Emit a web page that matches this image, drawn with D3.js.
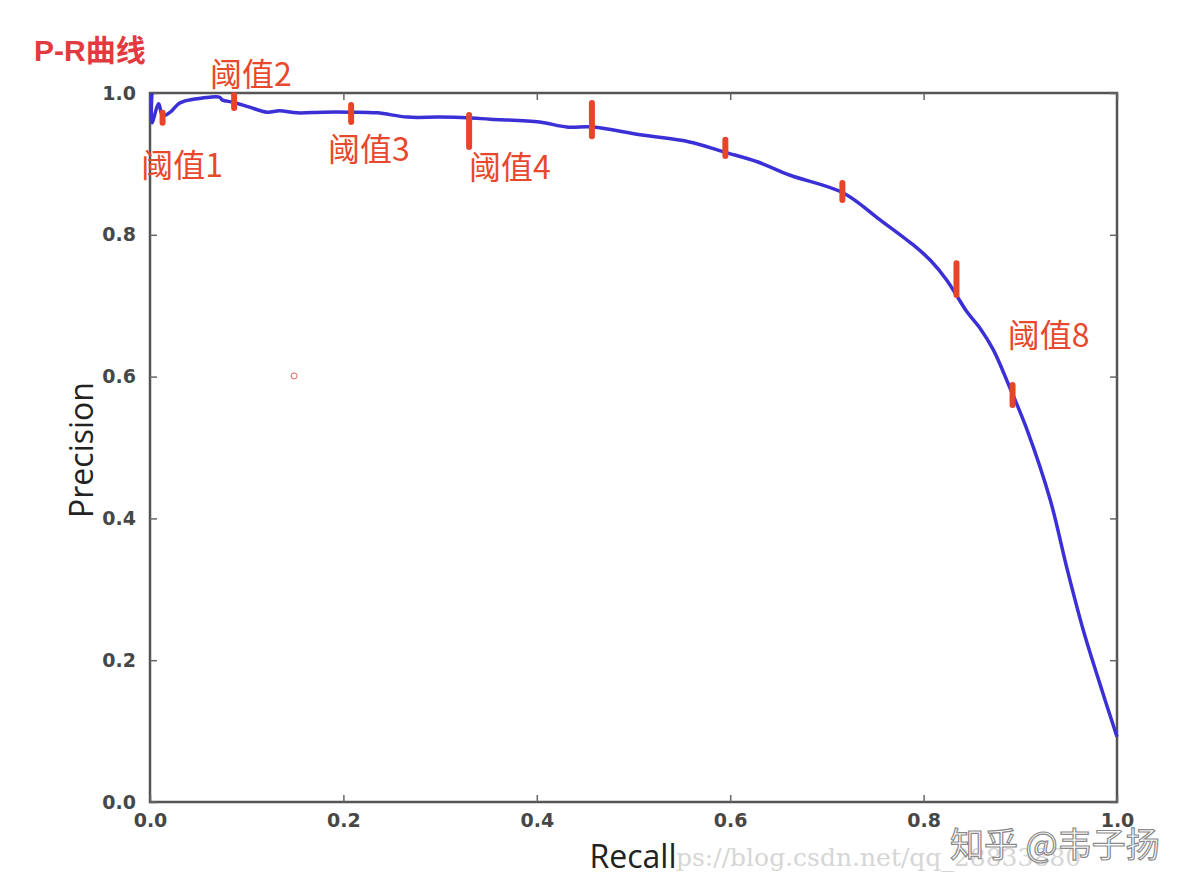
<!DOCTYPE html>
<html><head><meta charset="utf-8">
<script src="https://cdn.jsdelivr.net/npm/d3@7"></script>
<style>
html,body{margin:0;padding:0;background:#fff;}
svg{display:block;}
</style></head>
<body>
<svg id="chart" width="1200" height="890"></svg>
<script>
// ---- data ----
const recall = [0.002,0.002,0.009,0.013,0.021,0.031,0.062,0.072,0.075,0.086,0.103,0.121,0.134,0.152,0.179,0.207,0.235,0.266,0.300,0.328,0.352,0.403,0.431,0.458,0.507,0.558,0.593,0.628,0.662,0.717,0.755,0.789,0.807,0.824,0.845,0.858,0.872,0.889,0.907,0.931,0.948,0.965,0.982,1.000];
const precision = [1.000,0.958,0.985,0.968,0.973,0.986,0.994,0.994,0.990,0.987,0.980,0.973,0.975,0.972,0.973,0.973,0.972,0.966,0.966,0.965,0.963,0.959,0.952,0.952,0.941,0.931,0.917,0.903,0.884,0.859,0.821,0.786,0.764,0.736,0.691,0.669,0.638,0.585,0.525,0.426,0.331,0.243,0.168,0.092];
const markRecall = [0.013,0.087,0.208,0.330,0.457,0.595,0.716,0.834,0.892];
const markTop    = [0.972,0.997,0.983,0.969,0.986,0.934,0.873,0.760,0.588];
const markBottom = [0.958,0.979,0.959,0.924,0.939,0.911,0.849,0.715,0.560];
const labelText   = ["阈值1","阈值2","阈值3","阈值4","阈值8"];
const labelRecall = [-0.009,0.062,0.184,0.330,0.887];
const labelPrec   = [0.882,1.010,0.904,0.879,0.642];
const xTicks = [0.0,0.2,0.4,0.6,0.8,1.0];
const yTicks = [0.0,0.2,0.4,0.6,0.8,1.0];

// ---- layout ----
const svg = d3.select("#chart");
const L = 150, R = 1117, T = 93, B = 802;
const x = d3.scaleLinear().domain([0,1]).range([L,R]);
const y = d3.scaleLinear().domain([0,1]).range([B,T]);

// title
svg.append("text").attr("x",34).attr("y",61)
  .attr("font-family","Liberation Sans, Noto Sans CJK SC, sans-serif")
  .attr("font-weight","bold").attr("font-size",30).attr("fill","#e23a40")
  .text("P-R曲线");

// watermark url (behind)
svg.append("text").attr("x",676).attr("y",866)
  .attr("font-family","DejaVu Serif, Liberation Serif, serif")
  .attr("font-size",25).attr("fill","#d6d6d6")
  .text("ps://blog.csdn.net/qq_28833880");

// frame
svg.append("rect").attr("x",L).attr("y",T).attr("width",R-L).attr("height",B-T)
  .attr("fill","none").attr("stroke","#555").attr("stroke-width",2.5);

const tickFont = "DejaVu Sans, sans-serif";
const yAxis = d3.axisLeft(y).tickValues(yTicks).tickFormat(d3.format(".1f")).tickSize(-7).tickPadding(14);
const gy = svg.append("g").attr("transform",`translate(${L},0)`).call(yAxis);
gy.select(".domain").remove();
gy.selectAll("line").attr("stroke","#666").attr("stroke-width",1.5);
gy.selectAll("text").attr("font-family",tickFont).attr("font-size",19).attr("font-weight","bold").attr("fill","#474747");
const gyr = svg.append("g").attr("transform",`translate(${R},0)`).call(d3.axisRight(y).tickValues(yTicks).tickSize(-7).tickFormat(""));
gyr.select(".domain").remove();
gyr.selectAll("line").attr("stroke","#666").attr("stroke-width",1.5);
const xAxis = d3.axisBottom(x).tickValues(xTicks).tickFormat(d3.format(".1f")).tickSize(-7).tickPadding(12);
const gx = svg.append("g").attr("transform",`translate(0,${B})`).call(xAxis);
gx.select(".domain").remove();
gx.selectAll("line").attr("stroke","#666").attr("stroke-width",1.5);
gx.selectAll("text").attr("font-family",tickFont).attr("font-size",19).attr("font-weight","bold").attr("fill","#474747");
const gxt = svg.append("g").attr("transform",`translate(0,${T})`).call(d3.axisTop(x).tickValues(xTicks).tickSize(-7).tickFormat(""));
gxt.select(".domain").remove();
gxt.selectAll("line").attr("stroke","#666").attr("stroke-width",1.5);

// axis titles
svg.append("text").attr("transform","translate(93,450) rotate(-90)")
  .attr("text-anchor","middle").attr("font-family","Open Sans, DejaVu Sans, sans-serif")
  .attr("font-size",32).attr("fill","#222").text("Precision");
svg.append("text").attr("x",633).attr("y",868)
  .attr("text-anchor","middle").attr("font-family","Open Sans, DejaVu Sans, sans-serif")
  .attr("font-size",32).attr("fill","#222").text("Recall");

// curve
const pts = recall.map((r,i)=>[r,precision[i]]);
svg.append("path").datum(pts)
  .attr("d", d3.line().x(d=>x(d[0])).y(d=>y(d[1])).curve(d3.curveCatmullRom.alpha(0.5)))
  .attr("fill","none").attr("stroke","#3b2fd6").attr("stroke-width",3.5)
  .attr("stroke-linejoin","round");

// threshold marks
svg.append("g").selectAll("line").data(markRecall).join("line")
  .attr("x1",(d)=>x(d)).attr("x2",(d)=>x(d))
  .attr("y1",(d,i)=>y(markTop[i])).attr("y2",(d,i)=>y(markBottom[i]))
  .attr("stroke","#e8442a").attr("stroke-width",6).attr("stroke-linecap","round");

// labels
svg.append("g").selectAll("text").data(labelText).join("text")
  .attr("x",(d,i)=>x(labelRecall[i])).attr("y",(d,i)=>y(labelPrec[i]))
  .attr("font-family","Noto Sans CJK SC, sans-serif").attr("font-size",32)
  .attr("fill","#e8482c").text(d=>d);

// small red circle
svg.append("circle").attr("cx",x(0.149)).attr("cy",y(0.601)).attr("r",3)
  .attr("fill","none").attr("stroke","#e06060").attr("stroke-width",1);

// zhihu watermark
svg.append("text").attr("x",950).attr("y",857)
  .attr("font-family","Noto Sans CJK SC, sans-serif").attr("font-size",34)
  .attr("fill","#fff").attr("stroke","#8a8a8a").attr("stroke-width",1.2)
  .text("知乎 @韦子扬");
</script>
</body></html>
